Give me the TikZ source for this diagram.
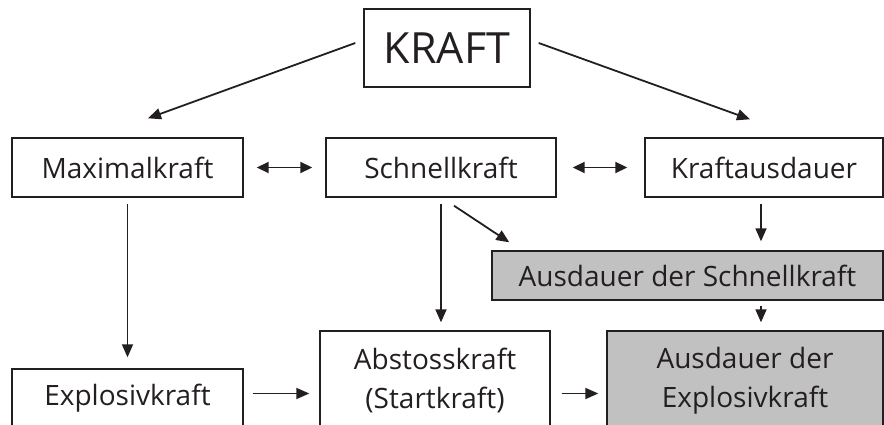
\documentclass[tikz,border=0pt]{standalone}
\usepackage{fontspec}
\setmainfont{Open Sans}
\usetikzlibrary{arrows.meta,calc}
\definecolor{boxgray}{RGB}{193,193,193}
\definecolor{ink}{RGB}{35,31,32}
\begin{document}
\begin{tikzpicture}[x=1pt,y=-1pt,
  box/.style={draw=ink,line width=1.4pt,rectangle,inner sep=0pt,text=ink,
    font=\fontsize{28}{39}\selectfont,align=center},
  graybox/.style={box,fill=boxgray},
  arr/.style={draw=ink,line width=1.8pt,-{Triangle[length=13pt,width=11pt]}},
  darr/.style={draw=ink,line width=1.8pt,{Triangle[length=12pt,width=11pt]}-{Triangle[length=12pt,width=11pt]}}]
\useasboundingbox (0,0) rectangle (884,425);
\clip (0,0) rectangle (884,425);
\node[box,minimum width=166pt,minimum height=78pt,font=\fontsize{43}{48}\selectfont] (kraft) at (447,48) {KRAFT};
\node[box,minimum width=231pt,minimum height=59pt] (maxk) at (127.5,167.5) {Maximalkraft};
\node[box,minimum width=230pt,minimum height=59pt] (schnell) at (441,167.5) {Schnellkraft};
\node[box,minimum width=238pt,minimum height=59pt] (kaus) at (764,167.5) {Kraftausdauer};
\node[graybox,minimum width=391pt,minimum height=49pt] (ads) at (687.5,275.5) {Ausdauer der Schnellkraft};
\node[box,minimum width=231pt,minimum height=59pt] (expl) at (127.5,398.5) {Explosivkraft};
\node[box,minimum width=230pt,minimum height=100pt] (abst) at (435,381) {Abstosskraft\\(Startkraft)};
\node[graybox,minimum width=276pt,minimum height=100pt] (ade) at (745,381) {Ausdauer der\\Explosivkraft};
% connectors
\draw[arr] ($(kraft.west)+(-8pt,5pt)$) -- ($(maxk.north)+(20.5pt,19pt)$);
\draw[arr] ($(kraft.east)+(8pt,5pt)$) -- ($(kaus.north)+(-14pt,18pt)$);
\draw[darr] ($(maxk.east)+(13pt,0pt)$) -- ($(schnell.west)+(-13pt,0pt)$);
\draw[darr] ($(schnell.east)+(16pt,0pt)$) -- ($(kaus.west)+(-17pt,0pt)$);
\draw[arr] ($(maxk.south)+(0pt,-6pt)$) -- ($(expl.north)+(0pt,11pt)$);
\draw[arr] ($(schnell.south)+(0pt,-6pt)$) -- ($(schnell.south |- abst.north)+(0pt,8pt)$);
\draw[arr] ($(schnell.south)+(13pt,-8pt)$) -- ($(ads.north west)+(18pt,8pt)$);
\draw[arr] ($(kaus.south)+(-3pt,-6pt)$) -- ($(kaus.south |- ads.north)+(-3pt,9pt)$);
\draw[arr] ($(kaus.south |- ads.south)+(-3pt,-5pt)$) -- ($(kaus.south |- ade.north)+(-3pt,8pt)$);
\draw[arr] ($(expl.east)+(9pt,5pt)$) -- ($(expl.east -| abst.west)+(-10pt,5pt)$);
\draw[arr] ($(expl.east -| abst.east)+(11pt,5pt)$) -- ($(expl.east -| ade.west)+(-8pt,5pt)$);
\end{tikzpicture}
\end{document}
